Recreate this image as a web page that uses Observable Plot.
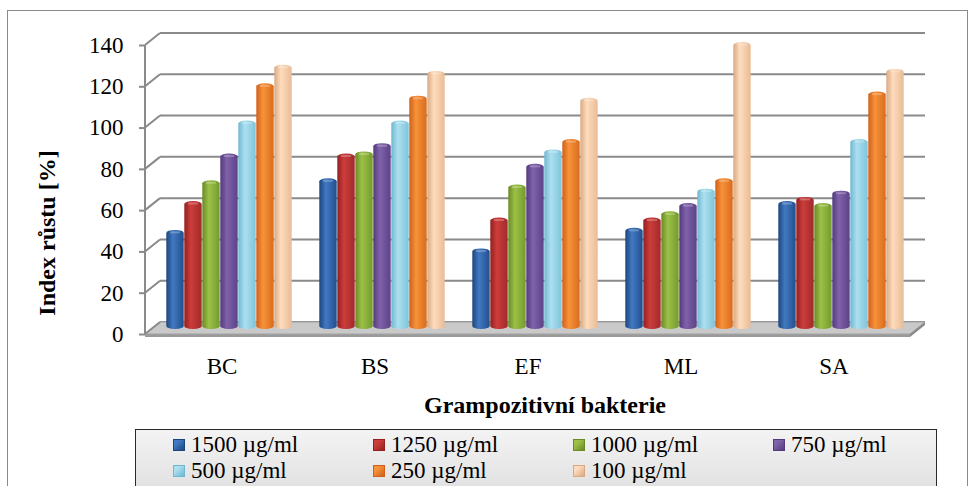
<!DOCTYPE html>
<html>
<head>
<meta charset="utf-8">
<script src="https://cdn.jsdelivr.net/npm/d3@7"></script>
<script src="https://cdn.jsdelivr.net/npm/@observablehq/plot@0.6"></script>
<style>
  body { margin: 0; background: #fff; font-family: "Liberation Serif", "Times New Roman", serif; }
  #wrap { position: relative; width: 969px; height: 486px; overflow: hidden; }
  #frame { position: absolute; left: 7px; top: 10px; width: 961px; height: 540px; border: 1.5px solid #8a8a8a; box-sizing: border-box; }
  #chart { position: absolute; left: 0; top: 0; }
  #chart svg text { font-family: "Liberation Serif", "Times New Roman", serif; font-variant: normal; }
  #ytitle { position: absolute; left: 47px; top: 233px; transform: translate(-50%, -50%) rotate(-90deg); font-weight: bold; font-size: 24px; white-space: nowrap; }
  #xtitle { position: absolute; left: 545px; top: 405px; transform: translate(-50%, -50%); font-weight: bold; font-size: 24px; white-space: nowrap; }
  #legend { position: absolute; left: 135px; top: 429px; width: 802px; height: 90px; border: 1.5px solid #2a2a2a; box-sizing: border-box; background: linear-gradient(#f3f3f3, #d9d9d9); }
  .item { position: absolute; font-family: "Liberation Serif", "Times New Roman", serif; font-size: 23px; line-height: 26px; white-space: nowrap; display: flex; align-items: center; }
  .sw { width: 12px; height: 12px; margin-right: 6px; box-sizing: border-box; }
</style>
</head>
<body>
<div id="wrap">
  <div id="frame"></div>
  <div id="chart"></div>
  <div id="ytitle">Index růstu [%]</div>
  <div id="xtitle">Grampozitivní bakterie</div>
  <div id="legend"></div>
</div>
<script>
// Bacteria (x categories) and concentrations (series)
const categories = ["BC", "BS", "EF", "ML", "SA"];
const series = ["1500 µg/ml", "1250 µg/ml", "1000 µg/ml", "750 µg/ml", "500 µg/ml", "250 µg/ml", "100 µg/ml"];

// Growth index [%] for each concentration, in the order of categories
const v1500 = [48, 73, 39, 49, 62];
const v1250 = [62, 85, 54, 54, 64];
const v1000 = [72, 86, 70, 57, 61];
const v750  = [85, 90, 80, 61, 67];
const v500  = [101, 101, 87, 68, 92];
const v250  = [119, 113, 92, 73, 115];
const v100  = [128, 125, 112, 139, 126];

const yTicks = [0, 20, 40, 60, 80, 100, 120, 140];

// Cylinder shading: dark edge, highlight, shadow edge
const shades = [
  ["#1b467e", "#4279c2", "#214f8d"],
  ["#93201f", "#cc3d3b", "#a12a29"],
  ["#6a8a26", "#9cc147", "#749a2e"],
  ["#523a7c", "#8062ab", "#5c4287"],
  ["#6fb8cf", "#acdff0", "#7fc4d9"],
  ["#d0601a", "#f7923a", "#d96c1c"],
  ["#d9a983", "#fedcbd", "#e8bc96"]
];

const valueSets = [v1500, v1250, v1000, v750, v500, v250, v100];
const rows = [];
series.forEach((s, si) => categories.forEach((c, ci) => rows.push({category: c, series: s, value: valueSets[si][ci]})));

// 3D depth offset of the back wall
const depthX = 15, depthY = 12;
const gridColor = "#8a8a8a";

// back wall, floor and left-wall connectors, drawn once across all facets
function walls(index, scales, values, dimensions) {
  const {width, marginLeft, marginRight} = dimensions;
  const x0 = marginLeft, x1 = width - marginRight;
  const y0 = scales.y(0);
  const g = d3.create("svg:g");
  for (const t of yTicks) {
    const y = scales.y(t);
    g.append("line")
      .attr("x1", x0 + depthX).attr("y1", y - depthY).attr("x2", x1 + depthX).attr("y2", y - depthY)
      .attr("stroke", gridColor).attr("stroke-width", 2);
  }
  g.append("path")
    .attr("d", `M${x0},${y0}L${x1},${y0}L${x1},${y0 + 3}L${x0},${y0 + 3}Z`)
    .attr("fill", "#9a9a9a");
  g.append("path")
    .attr("d", `M${x0},${y0}L${x1},${y0}L${x1 + depthX},${y0 - depthY}L${x0 + depthX},${y0 - depthY}Z`)
    .attr("fill", "#c9c9c9").attr("stroke", "#a3a3a3").attr("stroke-width", 1);
  g.append("path")
    .attr("d", `M${x1},${y0}L${x1 + depthX},${y0 - depthY}L${x1 + depthX},${y0 - depthY + 3}L${x1},${y0 + 3}Z`)
    .attr("fill", "#8a8a8a");
  for (const t of yTicks) {
    const y = scales.y(t);
    g.append("line")
      .attr("x1", x0).attr("y1", y).attr("x2", x0 + depthX).attr("y2", y - depthY)
      .attr("stroke", gridColor).attr("stroke-width", 2);
  }
  g.append("line")
    .attr("x1", x0).attr("y1", scales.y(0)).attr("x2", x0).attr("y2", scales.y(140))
    .attr("stroke", gridColor).attr("stroke-width", 2);
  return g.node();
}

const plot = Plot.plot({
  width: 969,
  height: 390,
  marginLeft: 145,
  marginRight: 59,
  marginTop: 45,
  marginBottom: 56,
  style: {fontFamily: "'Liberation Serif', 'Times New Roman', serif", fontSize: "23px", color: "black", background: "transparent", overflow: "visible"},
  fx: {domain: categories, padding: 0},
  x: {domain: series, axis: null, paddingInner: 0, paddingOuter: 0.68},
  y: {domain: [0, 140]},
  color: {domain: series, range: series.map((d, i) => `url(#cyl${i})`)},
  marks: [
    Plot.frame({facet: "super", render: walls}),
    Plot.axisY(yTicks, {tickSize: 6, tickPadding: 16, stroke: gridColor, strokeWidth: 2, fill: "black", label: null, fontSize: 23}),
    Plot.axisFx({anchor: "bottom", tickSize: 0, tickPadding: 23, fill: "black", label: null, fontSize: 23}),
    Plot.barY(rows, {fx: "category", x: "series", y: "value", fill: "series", dx: 7, dy: -5, insetLeft: 0.3, insetRight: 0.3, rx: 8, ry: 3}),
    Plot.tickY(rows, {fx: "category", x: "series", y: "value", dx: 7, dy: -3, stroke: "white", strokeOpacity: 0.25, strokeWidth: 2, inset: 4})
  ]
});

// horizontal gradients giving each column its cylindrical shading
const defs = d3.select(plot).insert("defs", ":first-child");
shades.forEach((c, i) => {
  const lg = defs.append("linearGradient").attr("id", `cyl${i}`).attr("x1", 0).attr("x2", 1).attr("y1", 0).attr("y2", 0);
  lg.append("stop").attr("offset", "0%").attr("stop-color", c[0]);
  lg.append("stop").attr("offset", "38%").attr("stop-color", c[1]);
  lg.append("stop").attr("offset", "100%").attr("stop-color", c[2]);
});
document.getElementById("chart").appendChild(plot);

// legend in two rows of four columns
const legend = document.getElementById("legend");
series.forEach((s, i) => {
  const item = document.createElement("div");
  item.className = "item";
  item.style.left = (37 + (i % 4) * 200) + "px";
  item.style.top = (2 + Math.floor(i / 4) * 26) + "px";
  const sw = document.createElement("span");
  sw.className = "sw";
  const c = shades[i];
  sw.style.background = `linear-gradient(135deg, ${c[1]} 0%, ${c[1]} 30%, ${c[0]} 100%)`;
  sw.style.border = `1px solid ${c[0]}`;
  item.appendChild(sw);
  item.appendChild(document.createTextNode(s));
  legend.appendChild(item);
});
</script>
</body>
</html>
